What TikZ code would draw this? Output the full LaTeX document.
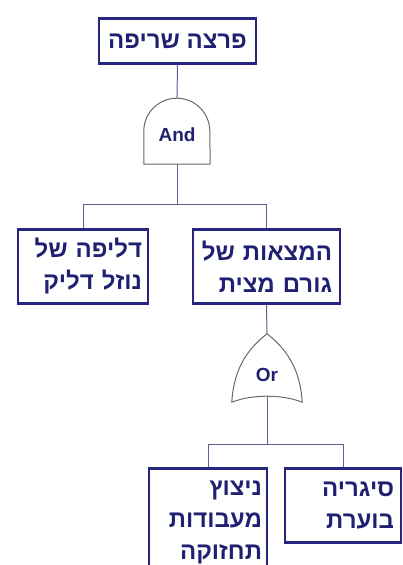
\documentclass[tikz,border=0pt]{standalone}
\usepackage{fontspec}
\setmainfont{Liberation Sans}
\newfontfamily\hebfont[Script=Hebrew]{Liberation Sans}
\TeXXeTstate=1
\usetikzlibrary{positioning}

\definecolor{boxblue}{RGB}{38,38,128}
\definecolor{textblue}{RGB}{32,32,115}
\definecolor{wireblue}{RGB}{95,95,145}
\definecolor{gategray}{RGB}{105,105,110}
\newcommand{\heb}[1]{\mbox{\beginR #1\endR}}

\begin{document}
\begin{tikzpicture}[x=1pt,y=-1pt,
    event/.style={draw=boxblue,line width=2.6pt,text=textblue,anchor=north,
      font=\hebfont\bfseries\fontsize{24}{32}\selectfont,align=right,
      inner xsep=6pt,inner ysep=7pt,minimum height=74pt},
    gate/.style={text=textblue,font=\bfseries\fontsize{19}{22}\selectfont,inner sep=0pt},
    gateline/.style={draw=gategray,line width=1pt},
    wire/.style={draw=wireblue,line width=1pt}]
    \useasboundingbox (0,0) rectangle (402,565);
    \clip (0,0) rectangle (402,565);

    \node[event,minimum height=45pt,minimum width=157pt,align=center] (fire) at (177.5,17) {\heb{פרצה שריפה}};
    \node[gate,minimum width=66pt,minimum height=66pt,text height=22pt] (andg) at (177,131) {And};
    \node[event,text width=118pt] (leak) at (83,228) {\heb{דליפה של}\\\heb{נוזל דליק}};
    \node[event,inner xsep=8pt,text width=131pt] (ignition) at (266.5,228) {\heb{המצאות של}\\\heb{גורם מצית}};
    \node[gate,minimum width=70pt,minimum height=62pt,text height=33pt] (org) at (267,365) {Or};
    \node[event,inner xsep=5pt,text width=108pt,inner ysep=13pt] (spark) at (208,467) {\heb{ניצוץ}\\\heb{מעבודות}\\\heb{תחזוקה}};
    \node[event,inner xsep=7pt,text width=102pt] (cigarette) at (343,467) {\heb{סיגריה}\\\heb{בוערת}};

    % gate outlines
    \draw[gateline] (andg.south west) -- ++(0,-33) arc[start angle=180,end angle=0,radius=33pt]
      -- (andg.south east) -- cycle;
    \draw[gateline] (org.north) .. controls +(-18,14) and +(2,-35) .. ([yshift=-6pt]org.south west)
      .. controls +(20,-8) and +(-20,-8) .. ([yshift=-6pt]org.south east)
      .. controls +(-2,-35) and +(18,14) .. (org.north) -- cycle;

    \path[wire]
    (fire.south) edge (andg.north)
    (ignition.south) edge (org.north);
    \draw[wire] (andg.south) -- ++(0,40) -| (leak.north);
    \draw[wire] (andg.south) ++(0,40) -| (ignition.north);
    \draw[wire] (org.south) -- ++(0,48) -| (spark.north);
    \draw[wire] (org.south) ++(0,48) -| (cigarette.north);
\end{tikzpicture}
\end{document}
